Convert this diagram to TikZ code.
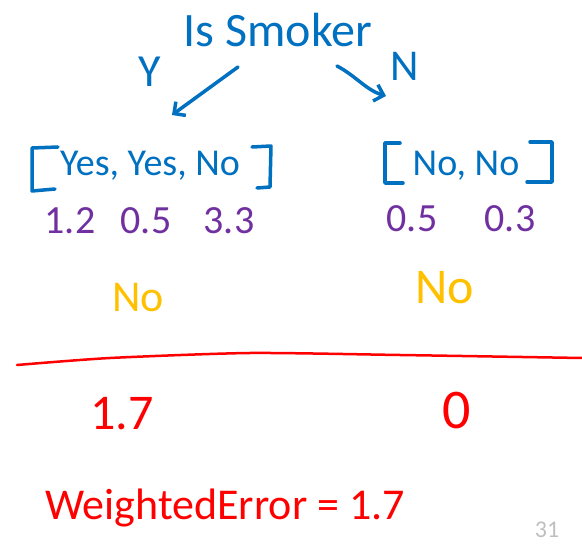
\documentclass[tikz,border=0pt]{standalone}
\usepackage{fontspec}
\setmainfont{Carlito}
\usetikzlibrary{arrows.meta}
\definecolor{inkblue}{RGB}{0,112,192}
\definecolor{inkpurple}{RGB}{112,48,160}
\definecolor{inkyellow}{RGB}{255,192,0}
\definecolor{inkred}{RGB}{255,0,0}
\definecolor{pagegray}{RGB}{191,191,191}
\newcommand\hf[1]{\fontsize{#1}{#1}\selectfont}
\begin{document}
\begin{tikzpicture}[x=1pt,y=-1pt,
  hand/.style={inner sep=0pt, anchor=center},
  ink/.style={line width=3.5pt, line cap=round, line join=round},
  barb/.style={-{Straight Barb[angle=90:12pt]}}]
\useasboundingbox (0,0) rectangle (582,548);
% title and branch labels
\node[hand, text=inkblue, font=\hf{48}] (root) at (278,30) {Is Smoker};
\node[hand, text=inkblue, font=\hf{46}] (ylab) at (150,72) {Y};
\node[hand, text=inkblue, font=\hf{44}] (nlab) at (405,66) {N};
% arrows
\coordinate (yStart) at (238,67);
\coordinate (yEnd) at (172,115);
\coordinate (nStart) at (337,66);
\coordinate (nEnd) at (386,96);
\draw[ink, inkblue, barb] (yStart) -- (yEnd);
\draw[ink, inkblue, barb] (nStart) .. controls (356,76) and (366,90) .. (nEnd);
% left list
\node[hand, text=inkblue, font=\hf{38}] (llist) at (150,166) {Yes, Yes, No};
\draw[ink, inkblue] (58,147) -- (32,148) -- (32,191) -- (55,189);
\draw[ink, inkblue] (252,147) -- (271,146) -- (270,187) -- (257,188);
% right list
\node[hand, text=inkblue, font=\hf{38}] (rlist) at (466,166) {No, No};
\draw[ink, inkblue] (400,143) -- (385,143) -- (385,183) -- (403,183);
\draw[ink, inkblue] (530,142) -- (552,142) -- (552,182) -- (527,182);
% weights
\node[hand, text=inkpurple, font=\hf{40}] (w1) at (70,221) {1.2};
\node[hand, text=inkpurple, font=\hf{40}] (w2) at (146,221) {0.5};
\node[hand, text=inkpurple, font=\hf{40}] (w3) at (229,221) {3.3};
\node[hand, text=inkpurple, font=\hf{40}] (w4) at (412,219) {0.5};
\node[hand, text=inkpurple, font=\hf{40}] (w5) at (510,219) {0.3};
% predictions
\node[hand, text=inkyellow, font=\hf{44}] (pl) at (138,298) {No};
\node[hand, text=inkyellow, font=\hf{50}] (pr) at (445,288) {No};
% red line
\draw[ink, inkred, line width=2.5pt] plot[smooth, tension=0.4] coordinates {(17,365) (110,358) (250,353) (400,355) (582,358)};
% errors
\node[hand, text=inkred, font=\hf{50}] (el) at (122,414) {1.7};
\node[hand, text=inkred, font=\hf{56}] (er) at (457,411) {0};
\node[hand, text=inkred, font=\hf{44}] (we) at (225,508) {WeightedError = 1.7};
% page number
\node[hand, text=pagegray, font=\hf{24}] (pg) at (547,530) {31};
\end{tikzpicture}
\end{document}
